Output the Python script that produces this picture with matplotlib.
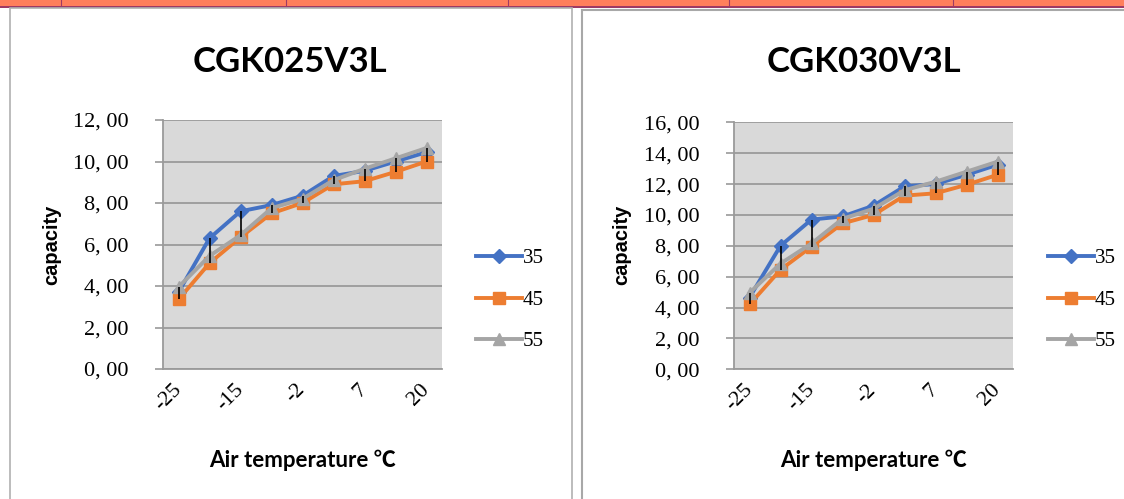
"""
Capacity vs air temperature for CGK025V3L / CGK030V3L (Excel style charts).
"""
import matplotlib
matplotlib.use("Agg")
import matplotlib.pyplot as plt
from matplotlib.patches import Rectangle
from matplotlib.lines import Line2D
from matplotlib.ticker import FuncFormatter

temps = ["-25", "-20", "-15", "-7", "-2", "2", "7", "12", "20"]
series_names = ["35", "45", "55"]

cgk025_35 = [3.7, 6.3, 7.6, 7.9, 8.35, 9.3, 9.55, 10.0, 10.45]
cgk025_45 = [3.35, 5.1, 6.35, 7.5, 8.0, 8.9, 9.05, 9.5, 10.0]
cgk025_55 = [3.95, 5.45, 6.45, 7.75, 8.2, 9.1, 9.65, 10.15, 10.65]

cgk030_35 = [4.65, 8.0, 9.7, 9.9, 10.6, 11.85, 12.0, 12.6, 13.25]
cgk030_45 = [4.2, 6.45, 7.95, 9.45, 10.0, 11.25, 11.4, 11.95, 12.6]
cgk030_55 = [4.95, 6.85, 8.15, 9.75, 10.4, 11.6, 12.15, 12.8, 13.45]

colors = ["#4472C4", "#ED7D31", "#A5A5A5"]
markers = ["D", "s", "^"]
msizes = [7, 8, 8]

SERIF = "Liberation Serif"
BOLD = ["Lato", "Noto Sans CJK SC", "DejaVu Sans"]

fig = plt.figure(figsize=(11.24, 4.99), dpi=100)
W, H = 1124, 499


def px(x, y):
    return x / W, 1 - y / H


# spreadsheet strip + chart frames (behind the axes)
fig.add_artist(Rectangle((0, 1 - 6 / H), 1, 6 / H, transform=fig.transFigure,
                         facecolor="#FF7F5C", edgecolor="none", zorder=-2))
fig.add_artist(Rectangle((0, 1 - 7.5 / H), 1, 1.5 / H, transform=fig.transFigure,
                         facecolor="#9E3A64", edgecolor="none", zorder=-2))
for cx in [61, 286, 508, 729, 953]:
    fig.add_artist(Line2D([cx / W, cx / W], [1 - 6 / H, 1], transform=fig.transFigure,
                          color="#9E3A64", lw=0.8, zorder=-2))
fig.add_artist(Rectangle(px(10, 520), 562 / W, 512 / H, transform=fig.transFigure,
                         facecolor="white", edgecolor="#B0B0B0", lw=1.2, zorder=-1))
fig.add_artist(Rectangle(px(582, 520), 600 / W, 510 / H, transform=fig.transFigure,
                         facecolor="white", edgecolor="#A8A8A8", lw=1.5, zorder=-1))


def draw_chart(rect, title, data, ymax, title_x, ylab_x, legend_x):
    ax = fig.add_axes(rect)
    ax.set_facecolor("#D9D9D9")
    x = list(range(len(temps)))
    for vals, c, m, ms, name in zip(data, colors, markers, msizes, series_names):
        ax.plot(x, vals, color=c, lw=2.8, marker=m, markersize=ms, label=name, zorder=3)
    # high-low lines
    lows = [min(v) for v in zip(*data)]
    highs = [max(v) for v in zip(*data)]
    ax.vlines(x, lows, highs, color="black", lw=1.2, zorder=4)

    ax.set_xlim(-0.5, len(temps) - 0.5)
    ax.set_ylim(0, ymax)
    ax.set_yticks(range(0, ymax + 1, 2))
    ax.yaxis.set_major_formatter(FuncFormatter(lambda v, p: f"{v:.2f}".replace(".", ", ")))
    ax.grid(axis="y", color="#9A9A9A", lw=1.3)
    ax.set_axisbelow(True)
    for s in ["top", "right"]:
        ax.spines[s].set_visible(False)
    for s in ["left", "bottom"]:
        ax.spines[s].set_color("#9A9A9A")
        ax.spines[s].set_linewidth(1.3)
    ax.tick_params(axis="y", length=6, color="#9A9A9A", width=1.2, pad=19,
                   labelsize=16)
    for t in ax.get_yticklabels():
        t.set_fontfamily(SERIF)
    ax.set_xticks(x[::2])
    ax.set_xticklabels(temps[::2], rotation=45, ha="right", va="center",
                       rotation_mode="anchor", fontfamily=SERIF, fontsize=16)
    ax.tick_params(axis="x", length=0, pad=13)

    fig.text(*px(title_x, 62), title, fontfamily=BOLD, fontweight="bold",
             fontsize=25, ha="center", va="center")
    fig.text(*px(ylab_x, 245), "capacity", fontfamily="Liberation Sans",
             fontweight="bold", fontsize=14.5, rotation=90, ha="center", va="center")
    fig.text(*px(rect[0] * W + rect[2] * W / 2, 460), "Air temperature ℃",
             fontfamily=BOLD, fontweight="bold", fontsize=16, ha="center", va="center")

    ax.legend(loc="center left", bbox_to_anchor=px(legend_x, 300),
              bbox_transform=fig.transFigure, frameon=False,
              prop={"family": SERIF, "size": 15}, handlelength=2.2,
              handletextpad=0.05, labelspacing=1.05, borderpad=0,
              borderaxespad=0)
    return ax


draw_chart([163 / W, 1 - 369 / H, 279 / W, 249 / H], "CGK025V3L",
           [cgk025_35, cgk025_45, cgk025_55], 12, 290, 52, 476)
draw_chart([734 / W, 1 - 369.3 / H, 279 / W, 247 / H], "CGK030V3L",
           [cgk030_35, cgk030_45, cgk030_55], 16, 864, 622, 1048)

fig.savefig("out.png", dpi=100)
